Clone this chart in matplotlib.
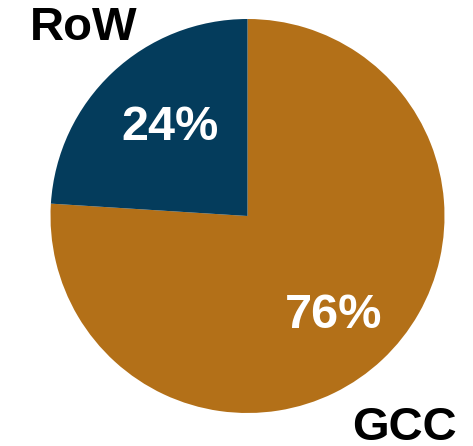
import matplotlib.pyplot as plt

labels = ["GCC", "RoW"]
shares = [76, 24]
colors = ["#B37018", "#043C5C"]

W, H = 473, 446
fig = plt.figure(figsize=(W / 100, H / 100), dpi=100)
plt.rcParams['font.family'] = ['Liberation Sans', 'DejaVu Sans']

# pie box in pixels: x 50..445, y 19..413
ax = fig.add_axes([50 / W, (H - 413) / H, 395 / W, 394 / H])
wedges, texts = ax.pie(shares, colors=colors, startangle=90, counterclock=False,
                       radius=1.0, wedgeprops=dict(linewidth=0))
ax.set_xlim(-1, 1)
ax.set_ylim(-1, 1)
ax.set_aspect('equal')
ax.axis('off')

def px(x, y):
    return x / W, 1 - y / H

fig.text(*px(334, 315), f"{shares[0]}%", color="white", fontsize=35, fontweight="bold",
         ha="center", va="center")
fig.text(*px(170, 127), f"{shares[1]}%", color="white", fontsize=35, fontweight="bold",
         ha="center", va="center")
fig.text(*px(84, 28), labels[1], color="black", fontsize=34, fontweight="bold",
         ha="center", va="center")
fig.text(*px(404, 428), labels[0], color="black", fontsize=34, fontweight="bold",
         ha="center", va="center")

fig.savefig("out.png", dpi=100)
